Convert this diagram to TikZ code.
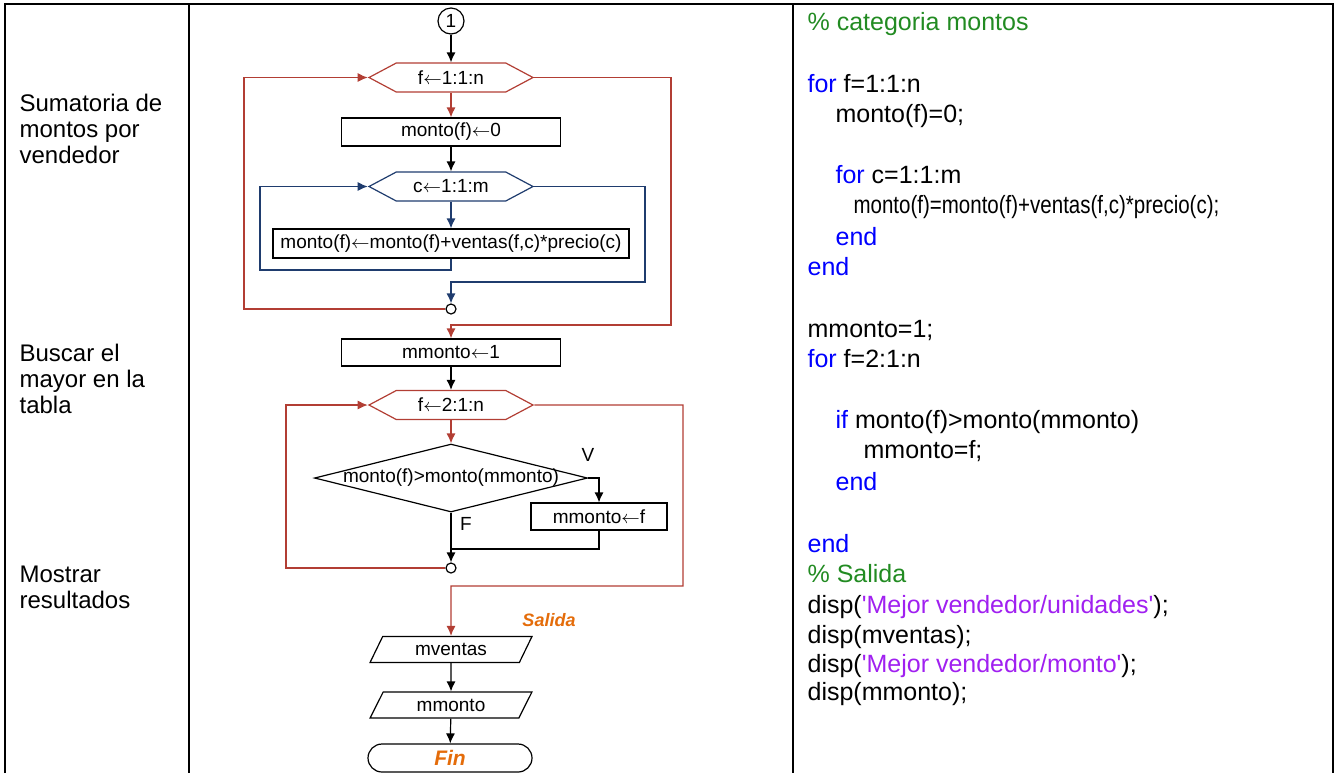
\documentclass[tikz,border=0pt]{standalone}
\usepackage{fontspec}
\setmainfont{Liberation Sans}
\newfontfamily\narrowfont[FakeStretch=0.82]{Liberation Sans}
\usetikzlibrary{positioning,shapes.geometric,shapes.symbols,shapes.misc,arrows.meta}

\definecolor{loopred}{RGB}{178,62,52}
\definecolor{loopblue}{RGB}{31,60,110}
\definecolor{codegreen}{RGB}{34,139,34}
\definecolor{codeblue}{RGB}{0,0,255}
\definecolor{codepurple}{RGB}{160,32,240}
\definecolor{outorange}{RGB}{228,108,10}

\newcommand{\kw}[1]{\textcolor{codeblue}{#1}}
\newcommand{\cm}[1]{\textcolor{codegreen}{#1}}
\newcommand{\st}[1]{\textcolor{codepurple}{\textquotesingle#1\textquotesingle}}
\newcommand{\asg}{$\leftarrow$}

\begin{document}
\begin{tikzpicture}[x=0.5pt, y=-0.5pt, line width=0.6pt, >={Latex[length=5pt,width=4.5pt]},
  fc/.style={font=\fontsize{9.5}{11}\selectfont},
  proc/.style={fc, rectangle, draw, inner sep=0pt, minimum width=109.5pt, minimum height=14pt},
  loophex/.style={fc, signal, signal to=east and west, signal pointer angle=56, draw, inner sep=0pt, minimum width=82pt, minimum height=14.5pt},
  decision/.style={fc, diamond, draw, inner sep=0pt, minimum width=136.5pt, minimum height=34pt},
  io/.style={fc, trapezium, trapezium left angle=62, trapezium right angle=118, draw, inner sep=0pt, minimum width=81pt, minimum height=13pt, trapezium stretches},
  term/.style={rounded rectangle, draw, inner sep=0pt, minimum width=82pt, minimum height=14pt, font=\fontsize{10.5}{12}\bfseries\itshape, text=outorange},
  joint/.style={circle, draw, fill=white, inner sep=0pt, minimum size=5pt},
  note/.style={font=\fontsize{12}{13}\selectfont, align=left, inner sep=0pt, anchor=base west},
  code/.style={font=\fontsize{12.5}{15}\selectfont, inner sep=0pt, anchor=base west}]
  \useasboundingbox (0,0) rectangle (1336,773);

  % table
  \draw[line width=1.2pt] (5,773) -- (5,4) -- (1333,4) -- (1333,773);
  \draw[line width=1.2pt] (189,4) -- (189,773) (793,4) -- (793,773);

  % left column (anchored on the last line)
  \node[note] (n1) at (19,163) {Sumatoria de\\montos por\\vendedor};
  \node[note] (n2) at (19,413) {Buscar el\\mayor en la\\tabla};
  \node[note] (n3) at (19,608) {Mostrar\\resultados};

  % flowchart
  \node[circle, draw, inner sep=0pt, minimum size=13pt, fc] (start) at (451,21) {1};
  \node[loophex, draw=loopred] (forf) at (451,77.5) {\makebox[0pt]{f\asg1:1:n}};
  \node[proc] (zero) at (451,132) {monto(f)\asg0};
  \node[loophex, draw=loopblue] (forc) at (451,186.5) {\makebox[0pt]{c\asg1:1:m}};
  \node[proc, minimum width=178pt, minimum height=14.5pt] (acc) at (451,243.5) {monto(f)\asg monto(f)+ventas(f,c)*precio(c)};
  \node[joint] (j1) at (451,309) {};
  \node[proc, minimum height=13.5pt] (init) at (451,352.5) {mmonto\asg1};
  \node[loophex, draw=loopred] (forf2) at (451,405) {\makebox[0pt]{f\asg2:1:n}};
  \node[decision] (cmp) at (451,478) {\makebox[0pt]{monto(f)>monto(mmonto)}};
  \node[proc, minimum width=68pt, minimum height=13.5pt] (upd) at (599,516.5) {mmonto\asg f};
  \node[joint] (j2) at (451,568) {};
  \node[io] (out1) at (451,649.5) {mventas};
  \node[io] (out2) at (451,705) {mmonto};
  \node[term] (fin) at (450,758) {Fin};

  \node[fc] (lv) at (588,455) {V};
  \node[fc] (lf) at (466,524) {F};
  \node[fc, font=\fontsize{9}{11}\bfseries\itshape, text=outorange] (lsal) at (549,620) {Salida};

  \draw[->] (start) -- (forf);
  \draw[->, loopred] (forf) -- (zero);
  \draw[->] (zero) -- (forc);
  \draw[->, loopblue] (forc) -- (acc);
  \draw[->, loopblue] (acc.south) -- (451,270) -- (260,270) |- (forc.west);
  \draw[->, loopblue] (forc.east) -| (645,282) -- (451,282) -- (j1);
  \draw[->, loopred] (j1) -- (244,309) |- (forf.west);
  \draw[->, loopred] (forf.east) -| (671,325) -- (451,325) -- (init);
  \draw[->] (init) -- (forf2);
  \draw[->, loopred] (forf2) -- (cmp);
  \draw[->] (cmp.east) -| (upd.north);
  \draw[->] (cmp.south) -- (j2);
  \draw (upd.south) |- (451,549);
  \draw[->, loopred] (j2) -- (286,568) |- (forf2.west);
  \draw[->, loopred] (forf2.east) -| (683,586) -- (451,586) -- (out1);
  \draw[->] (out1) -- (out2);
  \draw[->] (out2) -- (fin);

  % code column
  \foreach \px/\py/\txt [count=\i] in {
    807/30/{\cm{\% categoria montos}},
    807/92/{\kw{for} f=1:1:n},
    835/122/{monto(f)=0;},
    835/183/{\kw{for} c=1:1:m},
    835/245/{\kw{end}},
    807/275/{\kw{end}},
    807/337/{mmonto=1;},
    807/367/{\kw{for} f=2:1:n},
    835/428/{\kw{if} monto(f)>monto(mmonto)},
    863/458/{mmonto=f;},
    835/490/{\kw{end}},
    807/552/{\kw{end}},
    807/582/{\cm{\% Salida}},
    807/613/{disp(\st{Mejor vendedor/unidades});},
    807/643/{disp(mventas);},
    807/672/{disp(\st{Mejor vendedor/monto});},
    807/700/{disp(mmonto);}}
    \node[code] (code\i) at (\px,\py) {\txt};
  \node[code, font=\fontsize{12.5}{15}\narrowfont] (codeacc) at (853,213) {monto(f)=monto(f)+ventas(f,c)*precio(c);};
\end{tikzpicture}
\end{document}
